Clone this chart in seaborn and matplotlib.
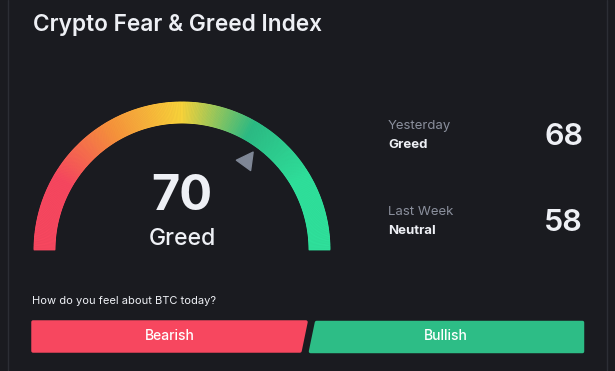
import numpy as np
import matplotlib
matplotlib.use("Agg")
import matplotlib.pyplot as plt
from matplotlib.patches import Wedge, Polygon
import seaborn as sns

# index data
title = "Crypto Fear & Greed Index"
today_value = 70
today_label = "Greed"
history_names = ["Yesterday", "Last Week"]
history_labels = ["Greed", "Neutral"]
history_values = [68, 58]
question = "How do you feel about BTC today?"
vote_options = ["Bearish", "Bullish"]

# styling
BG = "#1a1b20"
TXT = "#eef0f5"
GRAY = "#8a8f9c"
RED = "#f7475f"
GREEN = "#2dbd86"
gauge_stops = ["#f7475f", "#f7475f", "#f7933b", "#f8d33a", "#2cbb84", "#2fe09b", "#2fe09b"]

W, H = 615, 371
sns.set_theme(style="dark", rc={"axes.facecolor": BG, "figure.facecolor": BG})
plt.rcParams["font.family"] = ["Inter", "DejaVu Sans"]

fig = plt.figure(figsize=(W / 100, H / 100), dpi=100)
ax = fig.add_axes([0, 0, 1, 1])
ax.set_xlim(0, W)
ax.set_ylim(0, H)
ax.set_axis_off()


def Y(y):
    # pixel row (top-down) to axis y
    return H - y


# card borders
ax.plot([7.5, 7.5], [0, H], color="#2c2e35", lw=1)
ax.plot([607, 607], [0, H], color="#2c2e35", lw=1)

ax.text(33, Y(25), title, color=TXT, fontsize=16.3, fontweight="semibold",
        ha="left", va="center")

# gauge arc with gradient
cx, cy = 182, Y(250)
r_out, thick = 148, 21
n_seg = 360
cols = sns.blend_palette(gauge_stops, n_colors=n_seg)
edges = np.linspace(180, 0, n_seg + 1)
for i in range(n_seg):
    t1, t2 = edges[i + 1], edges[i]
    ax.add_patch(Wedge((cx, cy), r_out, t1, t2, width=thick,
                       facecolor=cols[i], edgecolor=cols[i], lw=0.6))

# pointer for today's value
ang = np.deg2rad(180 - today_value * 1.8)
half = np.deg2rad(4.8)
r_base, r_tip = 105, 121
tri = [
    (cx + r_base * np.cos(ang + half), cy + r_base * np.sin(ang + half)),
    (cx + r_tip * np.cos(ang), cy + r_tip * np.sin(ang)),
    (cx + r_base * np.cos(ang - half), cy + r_base * np.sin(ang - half)),
]
ax.add_patch(Polygon(tri, closed=True, facecolor="#7f8796", edgecolor="#7f8796",
                     lw=1, joinstyle="round"))

ax.text(cx, Y(197), str(today_value), color=TXT, fontsize=35, fontweight="bold",
        ha="center", va="center")
ax.text(cx, Y(239), today_label, color=TXT, fontsize=16.5, fontweight="medium",
        ha="center", va="center")

# history block
rows_y = [126, 212]
for name, lab, val, ry in zip(history_names, history_labels, history_values, rows_y):
    ax.text(388, Y(ry), name, color=GRAY, fontsize=9.5, ha="left", va="center")
    ax.text(388, Y(ry + 19), lab, color=TXT, fontsize=9.5, fontweight="bold",
            ha="left", va="center")
    ax.text(583, Y(ry + 11), str(val), color=TXT, fontsize=22, fontweight="semibold",
            ha="right", va="center")

# vote section
ax.text(32, Y(301), question, color=TXT, fontsize=8, ha="left", va="center")

top, bot = Y(322), Y(351)
bear = [(33, bot), (300, bot), (306, top), (33, top)]
bull = [(310, bot), (582, bot), (582, top), (316, top)]
for pts, col, lab in [(bear, RED, vote_options[0]), (bull, GREEN, vote_options[1])]:
    ax.add_patch(Polygon(pts, closed=True, facecolor=col, edgecolor=col, lw=2.5,
                         joinstyle="round"))
    xs = [p[0] for p in pts]
    ax.text((min(xs) + max(xs)) / 2, (top + bot) / 2, lab, color="white",
            fontsize=10, fontweight="medium", ha="center", va="center")

fig.savefig("out.png", dpi=100, facecolor=BG)
